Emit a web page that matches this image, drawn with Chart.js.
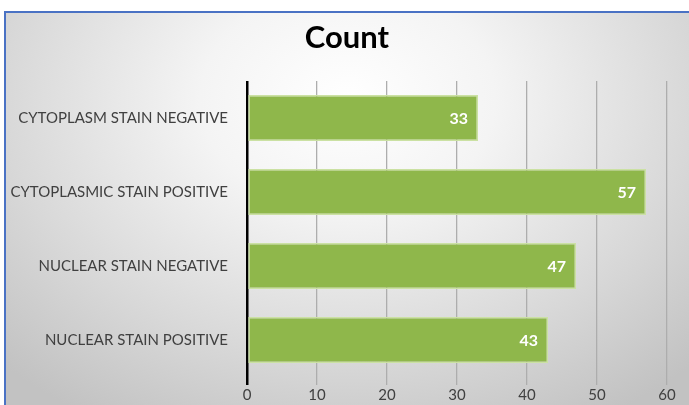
<!DOCTYPE html>
<html><head><meta charset="utf-8">
<script src="https://cdn.jsdelivr.net/npm/chart.js@4"></script>
<style>
html,body{margin:0;padding:0;background:#fff;}
#wrap{position:absolute;left:0;top:0;width:689px;height:405px;overflow:hidden;}
#bg{position:absolute;left:4px;top:11px;width:685px;height:394px;border-left:2px solid #4a72c4;border-top:2px solid #4a72c4;box-sizing:border-box;
background:radial-gradient(ellipse 72% 95% at 50% 22%, #ffffff 0%, #f4f4f4 30%, #d8d8d8 70%, #c2c2c2 100%);}
canvas{position:absolute;left:0;top:0;}
</style></head>
<body><div id="wrap"><div id="bg"></div><canvas id="c" width="689" height="405"></canvas></div>
<script>
const title = "Count";
const categories = ["CYTOPLASM STAIN NEGATIVE","CYTOPLASMIC STAIN POSITIVE","NUCLEAR STAIN NEGATIVE","NUCLEAR STAIN POSITIVE"];
const counts = [33,57,47,43];
const xTicks = [0,10,20,30,40,50,60];
const FONT = 'Lato, "Open Sans", sans-serif';

const labelPlugin = {
  id:'vals',
  afterDatasetsDraw(chart){
    const ctx = chart.ctx;
    const meta = chart.getDatasetMeta(0);
    ctx.save();
    ctx.fillStyle='#ffffff';
    ctx.font='bold 16px '+FONT;
    ctx.textAlign='right';
    ctx.textBaseline='middle';
    meta.data.forEach((bar,i)=>{
      ctx.fillText(String(counts[i]), bar.x-10, bar.y+1);
    });
    ctx.restore();
  },
  afterDraw(chart){
    const ctx = chart.ctx;
    ctx.save();
    ctx.fillStyle='#000';
    ctx.font='bold 31px '+FONT;
    ctx.textAlign='center';
    ctx.textBaseline='middle';
    ctx.fillText(title, 347, 38);
    ctx.restore();
  }
};

new Chart(document.getElementById('c'),{
  type:'bar',
  data:{labels:categories,datasets:[{data:counts,backgroundColor:'#8fb74b',borderColor:'#cbe1a3',borderWidth:1.5,borderSkipped:false,barPercentage:0.62,categoryPercentage:1}]},
  options:{
    indexAxis:'y',responsive:false,animation:false,devicePixelRatio:1,
    layout:{padding:{left:0,right:22,top:81,bottom:0}},
    plugins:{legend:{display:false},tooltip:{enabled:false},title:{display:false}},
    scales:{
      x:{min:0,max:60,afterBuildTicks(s){s.ticks=xTicks.map(v=>({value:v}));},
        ticks:{color:'#404040',font:{family:FONT,size:15},padding:1},
        grid:{color:(c)=>c.tick&&c.tick.value===0?'#000':'#adadad',lineWidth:(c)=>c.tick&&c.tick.value===0?2.5:1.3,drawTicks:true,tickLength:8},
        border:{display:false},
        afterFit(s){s.height=28;}},
      y:{ticks:{color:'#404040',font:{family:FONT,size:15},padding:11},
        grid:{display:false},border:{display:false},
        afterFit(s){s.width=247;}}
    }
  },
  plugins:[labelPlugin]
});
</script></body></html>
